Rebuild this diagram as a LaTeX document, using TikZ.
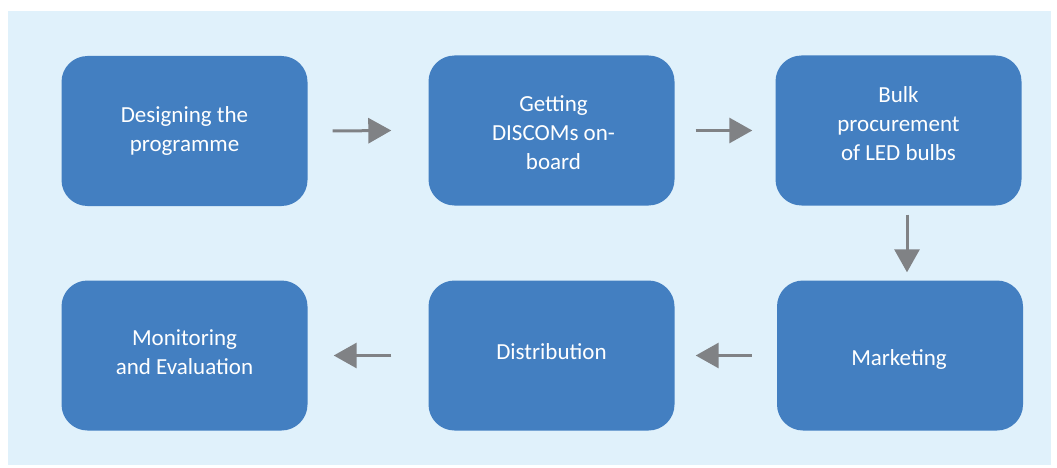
\documentclass[tikz,border=0pt]{standalone}
\usepackage{fontspec}
\setmainfont{Carlito}
\usetikzlibrary{arrows.meta}
\definecolor{bgblue}{HTML}{E0F1FB}
\definecolor{boxblue}{HTML}{437FC1}
\definecolor{arrgray}{HTML}{808285}
\tikzset{
  stepbox/.style={draw=none, fill=boxblue, rounded corners=26pt, minimum width=246pt, minimum height=150pt, inner sep=0pt},
  boxtext/.style={text=white, align=center, font=\fontsize{23}{29}\selectfont, inner sep=0pt},
  flow/.style={draw=arrgray, line width=3pt, -{Triangle[length=23pt,width=25pt]}}
}
\begin{document}
\begin{tikzpicture}[x=1pt,y=-1pt]
\useasboundingbox (0,0) rectangle (1057,468);
\fill[white] (0,0) rectangle (1057,468);
\fill[bgblue] (8,11) rectangle (1051,465);
\node[stepbox] (b1) at (184.5,131) {};
\node[stepbox] (b2) at (551.5,130.5) {};
\node[stepbox] (b3) at (898.5,130.5) {};
\node[stepbox] (b4) at (900,355.5) {};
\node[stepbox] (b5) at (551.5,355.5) {};
\node[stepbox] (b6) at (184.5,355.5) {};
\node[boxtext] (t1) at ([shift={(0,0)}]b1.center) {Designing the\\programme};
\node[boxtext] (t2) at ([shift={(2,2)}]b2.center) {Getting\\DISCOMs on-\\board};
\node[boxtext] (t3) at ([shift={(0,-7)}]b3.center) {Bulk\\procurement\\of LED bulbs};
\node[boxtext] (t4) at ([shift={(-1,4)}]b4.center) {Marketing};
\node[boxtext] (t5) at ([shift={(0,-3.5)}]b5.center) {Distribution};
\node[boxtext] (t6) at ([shift={(0,-3)}]b6.center) {Monitoring\\and Evaluation};
\draw[flow] ([xshift=25pt]b1.east) -- ([xshift=-37pt]b2.west);
\draw[flow] ([xshift=21pt]b2.east) -- ([xshift=-23pt]b3.west);
\draw[flow] ([shift={(8.5,9)}]b3.south) -- ([shift={(7,-8)}]b4.north);
\draw[flow] ([xshift=-25pt]b4.west) -- ([xshift=21pt]b5.east);
\draw[flow] ([xshift=-37pt]b5.west) -- ([xshift=26pt]b6.east);
\end{tikzpicture}
\end{document}
